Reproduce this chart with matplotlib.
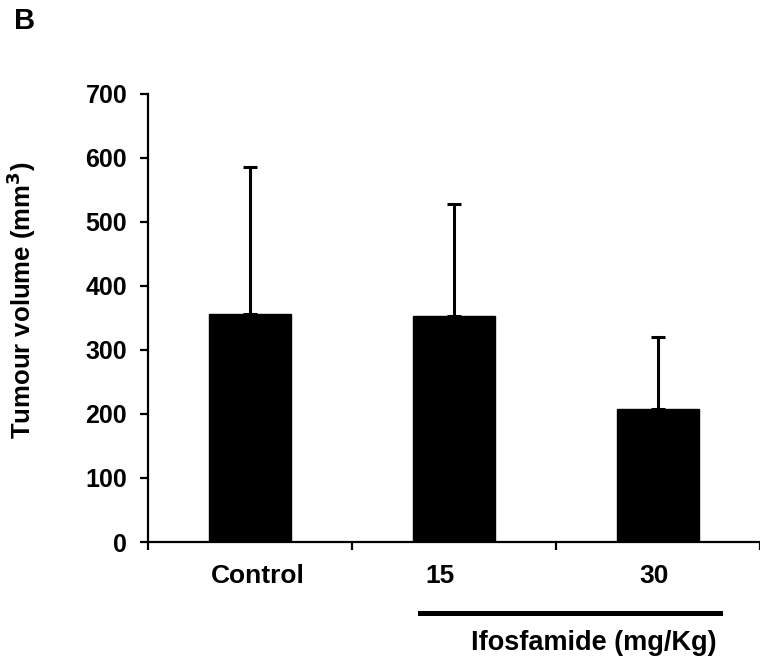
import matplotlib
matplotlib.use("Agg")
import matplotlib.pyplot as plt
from matplotlib.lines import Line2D

plt.rcParams['font.family'] = ['Liberation Sans', 'DejaVu Sans']
plt.rcParams['font.weight'] = 'bold'

categories = ["Control", "15", "30"]
means = [356, 353, 207]
errors = [230, 175, 113]
yticks = [0, 100, 200, 300, 400, 500, 600, 700]

fig = plt.figure(figsize=(7.6, 6.58), dpi=100)
ax = fig.add_axes([148/760, 116/658, 612/760, 448.5/658])

x = list(range(len(categories)))
ax.bar(x, means, width=0.4, color='black', edgecolor='black', zorder=2)
ax.errorbar(x, means, yerr=[[0]*len(errors), errors], fmt='none', ecolor='black',
            elinewidth=2.2, capsize=4.7, capthick=2.2, zorder=1)

ax.set_xlim(-0.5, 2.5)
ax.set_ylim(0, 700)
ax.set_yticks(yticks)
ax.set_yticklabels([str(v) for v in yticks], fontsize=18, fontweight='bold')
ax.set_xticks([-0.5, 0.5, 1.5, 2.5])
ax.set_xticklabels([])
ax.tick_params(axis='both', width=1.6, length=6, direction='out')
ax.tick_params(axis='y', pad=9)
for s in ['top', 'right']:
    ax.spines[s].set_visible(False)
for s in ['left', 'bottom']:
    ax.spines[s].set_linewidth(1.6)
ax.spines['bottom'].set_clip_on(False)

offsets = [0.04, -0.07, -0.02]
for xi, lab, off in zip(x, categories, offsets):
    ax.text(xi + off, -0.075, lab, transform=ax.get_xaxis_transform(),
            ha='center', va='center', fontsize=19, fontweight='bold')

ax.set_ylabel("Tumour volume (mm$^\\mathbf{3}$)", fontsize=18.5, fontweight='bold')
ax.yaxis.set_label_coords(-0.18, 0.54)

fig.add_artist(Line2D([420/760, 720/760], [1 - 613/658] * 2, color='black', lw=3.6))
fig.text(594/760, 1 - 643/658, "Ifosfamide (mg/Kg)", ha='center', va='center',
         fontsize=19.5, fontweight='bold')
fig.text(25/760, 1 - 21/658, "B", ha='center', va='center', fontsize=21, fontweight='bold')

fig.savefig("out.png", dpi=100)
